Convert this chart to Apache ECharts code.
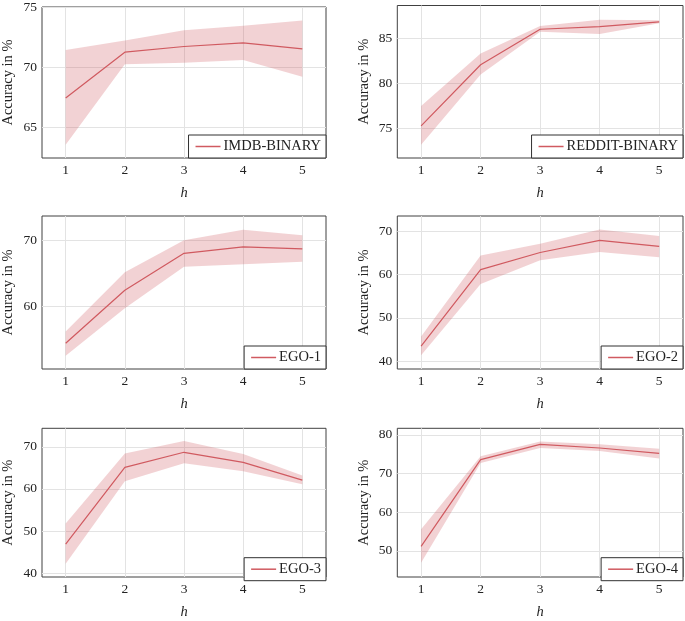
<!DOCTYPE html>
<html>
<head>
<meta charset="utf-8">
<script src="https://cdn.jsdelivr.net/npm/echarts@6/dist/echarts.min.js"></script>
<style>html,body{margin:0;padding:0;background:#fff;}#c{width:685px;height:621px;}</style>
</head>
<body>
<div id="c"></div>
<script>
// ---- data ----
const hValues = [1, 2, 3, 4, 5];
const xTicks = [1, 2, 3, 4, 5];

const names = ['IMDB-BINARY', 'REDDIT-BINARY', 'EGO-1', 'EGO-2', 'EGO-3', 'EGO-4'];

const imdbMean  = [67.45, 71.25, 71.72, 72.02, 71.52];
const imdbUpper = [71.42, 72.21, 73.06, 73.44, 73.88];
const imdbLower = [63.55, 70.25, 70.38, 70.60, 69.20];

const redditMean  = [75.30, 82.09, 86.04, 86.34, 86.86];
const redditUpper = [77.50, 83.35, 86.40, 87.10, 87.04];
const redditLower = [73.20, 81.00, 85.75, 85.50, 86.70];

const ego1Mean  = [54.49, 62.47, 68.04, 69.00, 68.70];
const ego1Upper = [56.24, 65.18, 70.00, 71.60, 70.75];
const ego1Lower = [52.60, 59.75, 66.00, 66.40, 66.78];

const ego2Mean  = [43.50, 61.15, 65.10, 67.90, 66.50];
const ego2Upper = [45.70, 64.40, 67.10, 70.40, 68.90];
const ego2Lower = [41.40, 57.80, 63.30, 65.20, 64.00];

const ego3Mean  = [46.90, 65.10, 68.70, 66.30, 62.10];
const ego3Upper = [51.80, 68.40, 71.40, 68.30, 63.20];
const ego3Lower = [42.20, 61.80, 66.10, 64.20, 61.10];

const ego4Mean  = [51.18, 73.60, 77.55, 76.60, 75.20];
const ego4Upper = [55.60, 74.50, 78.30, 77.55, 76.40];
const ego4Lower = [46.98, 72.70, 76.60, 75.80, 73.90];

const yTicks1 = [65, 70, 75];
const yTicks2 = [75, 80, 85];
const yTicks3 = [60, 70];
const yTicks4 = [40, 50, 60, 70];
const yTicks5 = [40, 50, 60, 70];
const yTicks6 = [50, 60, 70, 80];

const yRange1 = [62.46, 75.0];
const yRange2 = [71.73, 88.68];
const yRange3 = [50.6, 73.66];
const yRange4 = [38.2, 73.53];
const yRange5 = [39.07, 74.4];
const yRange6 = [43.27, 81.69];

const xRange = [0.6, 5.4];

// ---- build ----
const panels = [
  {mean: imdbMean, up: imdbUpper, lo: imdbLower, ticks: yTicks1, range: yRange1},
  {mean: redditMean, up: redditUpper, lo: redditLower, ticks: yTicks2, range: yRange2},
  {mean: ego1Mean, up: ego1Upper, lo: ego1Lower, ticks: yTicks3, range: yRange3},
  {mean: ego2Mean, up: ego2Upper, lo: ego2Lower, ticks: yTicks4, range: yRange4},
  {mean: ego3Mean, up: ego3Upper, lo: ego3Lower, ticks: yTicks5, range: yRange5},
  {mean: ego4Mean, up: ego4Upper, lo: ego4Lower, ticks: yTicks6, range: yRange6}
];

const W = 685, H = 621;
const colLeft = [40, 397.3];
const colRight = [326, 683];
const rowTop = [5.5, 216, 428.3];
const rowBottom = [158, 369, 580.7];

const lineColor = '#d05a60';
const font = 'Liberation Serif';
const tickSize = 13.5, labelSize = 14.5;

const grids = [], xAxes = [], yAxes = [], series = [], legends = [];
panels.forEach((p, i) => {
  const c = i % 2, r = Math.floor(i / 2);
  grids.push({
    left: colLeft[c], top: rowTop[r],
    width: colRight[c] - colLeft[c], height: rowBottom[r] - rowTop[r],
    show: true, borderColor: '#404040', borderWidth: 1, backgroundColor: 'transparent'
  });
  xAxes.push({
    type: 'value', gridIndex: i, min: xRange[0], max: xRange[1],
    name: 'h', nameLocation: 'middle', nameGap: 28,
    nameTextStyle: {fontFamily: font, fontStyle: 'italic', fontSize: labelSize, color: '#222'},
    axisLine: {show: false},
    axisTick: {show: false, customValues: xTicks},
    axisLabel: {customValues: xTicks, fontFamily: font, fontSize: tickSize, color: '#222', margin: 5},
    splitLine: {show: true, lineStyle: {color: '#e3e3e3', width: 1}}
  });
  yAxes.push({
    type: 'value', gridIndex: i, min: p.range[0], max: p.range[1],
    name: 'Accuracy in %', nameLocation: 'middle', nameGap: 26,
    nameTextStyle: {fontFamily: font, fontSize: labelSize, color: '#222'},
    axisLine: {show: false},
    axisTick: {show: false, customValues: p.ticks},
    axisLabel: {customValues: p.ticks, fontFamily: font, fontSize: tickSize, color: '#222', margin: 5},
    splitLine: {show: true, lineStyle: {color: '#e3e3e3', width: 1}}
  });
  // confidence band as one polygon through the axis scales
  series.push({
    type: 'custom', xAxisIndex: i, yAxisIndex: i, silent: true, z: 1,
    data: hValues.map((h, k) => [h, p.lo[k], p.up[k]]),
    encode: {x: 0, y: [1, 2]},
    renderItem: function (params, api) {
      if (params.dataIndex !== 0) return null;
      const upperPts = hValues.map((h, k) => api.coord([h, p.up[k]]));
      const lowerPts = hValues.map((h, k) => api.coord([h, p.lo[k]])).reverse();
      return {
        type: 'polygon',
        shape: {points: upperPts.concat(lowerPts)},
        style: {fill: lineColor, opacity: 0.27}
      };
    }
  });
  series.push({
    name: names[i], type: 'line', xAxisIndex: i, yAxisIndex: i,
    data: hValues.map((h, k) => [h, p.mean[k]]),
    showSymbol: false, lineStyle: {color: lineColor, width: 1.2},
    itemStyle: {color: lineColor}, z: 3
  });
  legends.push({
    data: [names[i]],
    right: W - colRight[c], bottom: H - rowBottom[r],
    backgroundColor: '#fff', borderColor: '#303030', borderWidth: 1,
    padding: [4, 5, 4, 7],
    icon: 'rect', itemWidth: 25, itemHeight: 1.5,
    textStyle: {fontFamily: font, fontSize: labelSize, color: '#222', padding: [0, 0, 0, -2]},
    selectedMode: false, z: 10
  });
});

const chart = echarts.init(document.getElementById('c'), null, {renderer: 'canvas'});
chart.setOption({
  animation: false,
  backgroundColor: '#fff',
  grid: grids, xAxis: xAxes, yAxis: yAxes, series: series, legend: legends
});
</script>
</body>
</html>
